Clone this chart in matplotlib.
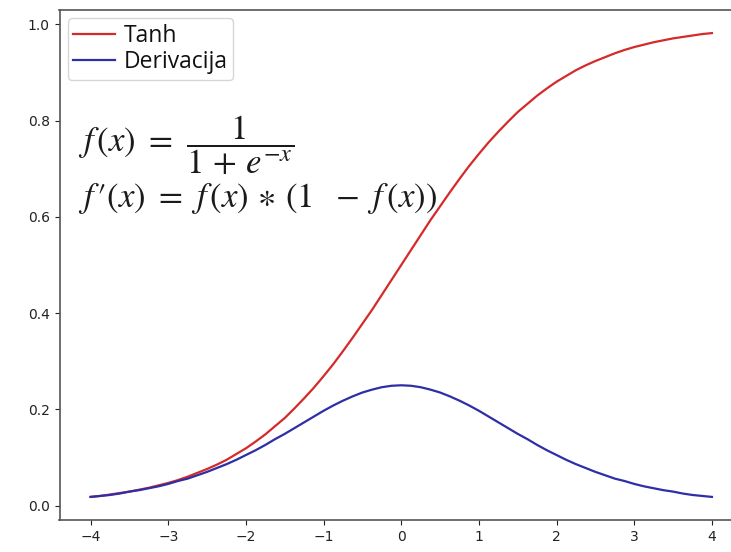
import matplotlib
matplotlib.use("Agg")
import matplotlib.pyplot as plt

x_vals = [-4.0, -3.875, -3.75, -3.625, -3.5, -3.375, -3.25, -3.125,
          -3.0, -2.875, -2.75, -2.625, -2.5, -2.375, -2.25, -2.125,
          -2.0, -1.875, -1.75, -1.625, -1.5, -1.375, -1.25, -1.125,
          -1.0, -0.875, -0.75, -0.625, -0.5, -0.375, -0.25, -0.125,
          0.0, 0.125, 0.25, 0.375, 0.5, 0.625, 0.75, 0.875,
          1.0, 1.125, 1.25, 1.375, 1.5, 1.625, 1.75, 1.875,
          2.0, 2.125, 2.25, 2.375, 2.5, 2.625, 2.75, 2.875,
          3.0, 3.125, 3.25, 3.375, 3.5, 3.625, 3.75, 3.875, 4.0]
tanh_vals = [0.018, 0.020, 0.023, 0.026, 0.029, 0.033, 0.037, 0.042,
             0.047, 0.053, 0.060, 0.068, 0.076, 0.085, 0.095, 0.107,
             0.119, 0.133, 0.148, 0.165, 0.182, 0.202, 0.223, 0.245,
             0.269, 0.294, 0.321, 0.349, 0.378, 0.407, 0.438, 0.469,
             0.500, 0.531, 0.562, 0.593, 0.622, 0.651, 0.679, 0.706,
             0.731, 0.755, 0.777, 0.798, 0.818, 0.835, 0.852, 0.867,
             0.881, 0.893, 0.905, 0.915, 0.924, 0.932, 0.940, 0.947,
             0.953, 0.958, 0.963, 0.967, 0.971, 0.974, 0.977, 0.980, 0.982]
deriv_vals = [0.018, 0.020, 0.022, 0.025, 0.029, 0.032, 0.036, 0.040,
              0.045, 0.051, 0.056, 0.063, 0.070, 0.078, 0.086, 0.095,
              0.105, 0.115, 0.126, 0.138, 0.149, 0.161, 0.173, 0.185,
              0.197, 0.208, 0.218, 0.227, 0.235, 0.241, 0.246, 0.249,
              0.250, 0.249, 0.246, 0.241, 0.235, 0.227, 0.218, 0.208,
              0.197, 0.185, 0.173, 0.161, 0.149, 0.138, 0.126, 0.115,
              0.105, 0.095, 0.086, 0.078, 0.070, 0.063, 0.056, 0.051,
              0.045, 0.040, 0.036, 0.032, 0.029, 0.025, 0.022, 0.020, 0.018]
series_labels = ["Tanh", "Derivacija"]
x_ticks = [-4, -3, -2, -1, 0, 1, 2, 3, 4]
y_ticks = [0.0, 0.2, 0.4, 0.6, 0.8, 1.0]
formula_lines = [r"$f\,(x)\ =\ \dfrac{1}{1\,+\,e^{-x}}$",
                 r"$f\,\prime(x)\ =\ f\,(x)\,\ast\,(1\ \ -\ f\,(x))$"]

plt.rcParams['mathtext.fontset'] = 'stix'

fig = plt.figure(figsize=(7.31, 5.52), dpi=100)
ax = fig.add_axes([59.5 / 731, 32 / 552, (743 - 59.5) / 731, 510 / 552])

ax.plot(x_vals, tanh_vals, color="#d42a2a", lw=1.6, label=series_labels[0])
ax.plot(x_vals, deriv_vals, color="#2e2ea6", lw=1.6, label=series_labels[1])

ax.set_xlim(-4.4, 4.4)
ax.set_ylim(-0.03, 1.03)
ax.set_xticks(x_ticks)
ax.set_yticks(y_ticks)
ax.set_xticklabels([f"{t:d}".replace("-", "\u2212") for t in x_ticks])
ax.set_yticklabels([f"{t:.1f}" for t in y_ticks])
ax.tick_params(labelsize=10, colors="#222222")
ax.spines["right"].set_visible(False)
for s in ax.spines.values():
    s.set_color("#555555")
    s.set_linewidth(1.2)

leg = ax.legend(loc="upper left", prop={"family": "Open Sans", "size": 16.5},
                handlelength=1.8, borderpad=0.25, labelspacing=0.12,
                handletextpad=0.4, borderaxespad=0.35)
for t in leg.get_texts():
    t.set_color("#111111")

fig.text(78 / 731, 1 - 152 / 552, formula_lines[0], color="#1a1a1a",
         fontsize=25, va="baseline", ha="left")
fig.text(78 / 731, 1 - 207 / 552, formula_lines[1], color="#1a1a1a",
         fontsize=25, va="baseline", ha="left")

fig.savefig("out.png", dpi=100)
